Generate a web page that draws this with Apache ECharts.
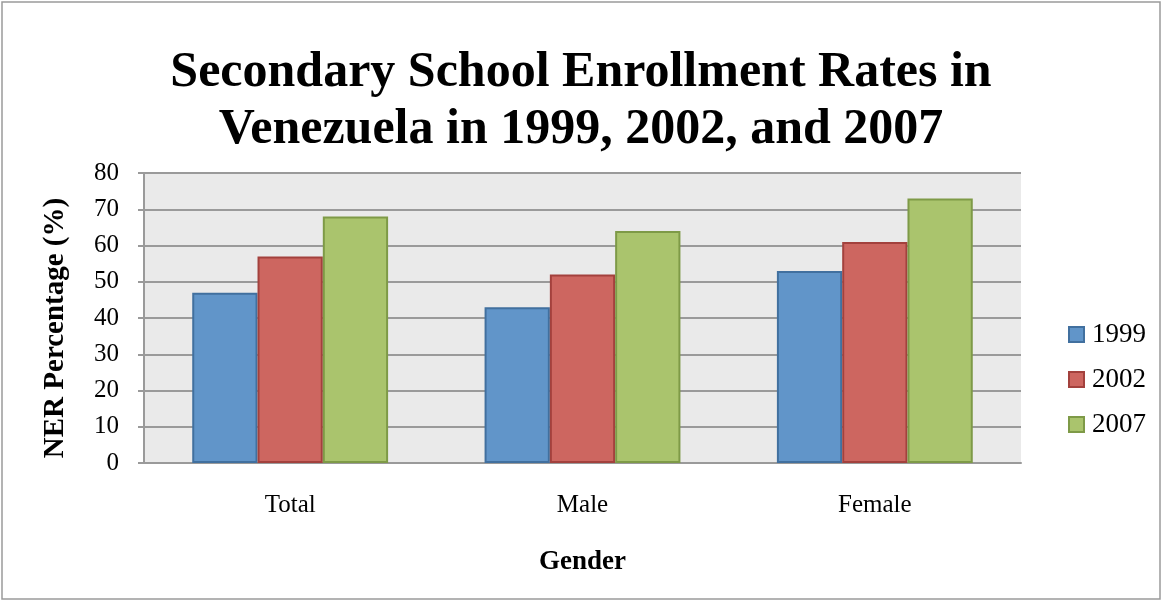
<!DOCTYPE html>
<html>
<head>
<meta charset="utf-8">
<script src="https://cdn.jsdelivr.net/npm/echarts@6/dist/echarts.min.js"></script>
<style>
html,body{margin:0;padding:0;background:#fff;}
#chart{width:1162px;height:601px;}
</style>
</head>
<body>
<div id="chart"></div>
<script>
const categories = ['Total', 'Male', 'Female'];
const seriesNames = ['1999', '2002', '2007'];
const values1999 = [47, 43, 53];
const values2002 = [57, 52, 61];
const values2007 = [68, 64, 73];
const yTicks = [0, 10, 20, 30, 40, 50, 60, 70, 80];

const fills = ['#6195C9', '#CD6660', '#AAC46D'];
const borders = ['#41709F', '#A3413D', '#7E9A47'];
const FONT = '"Liberation Serif", serif';

const chart = echarts.init(document.getElementById('chart'), null, {renderer: 'canvas'});
const data = [values1999, values2002, values2007];

chart.setOption({
  backgroundColor: '#ffffff',
  animation: false,
  title: {
    text: 'Secondary School Enrollment Rates in\nVenezuela in 1999, 2002, and 2007',
    left: 'center',
    top: 40,
    textStyle: {fontFamily: FONT, fontWeight: 'bold', fontSize: 50, lineHeight: 57, color: '#000'}
  },
  graphic: [{
    type: 'rect', shape: {x: 2, y: 2, width: 1158, height: 597},
    style: {fill: 'none', stroke: '#9a9a9a', lineWidth: 1.5}, silent: true, z: -1
  }],
  legend: {
    orient: 'vertical',
    left: 1063,
    top: 316,
    itemWidth: 15,
    itemHeight: 15,
    itemGap: 18,
    icon: 'rect',
    textStyle: {fontFamily: FONT, fontSize: 27, color: '#000', padding: [0,0,0,3]},
    data: seriesNames
  },
  grid: {left: 144, right: 141, top: 173, bottom: 138, show: true, backgroundColor: '#EAEAEA', borderWidth: 0},
  xAxis: {
    type: 'category',
    data: categories,
    name: 'Gender',
    nameLocation: 'middle',
    nameGap: 86,
    nameTextStyle: {fontFamily: FONT, fontWeight: 'bold', fontSize: 27, color: '#000'},
    axisLine: {lineStyle: {color: '#9a9a9a', width: 2}},
    axisTick: {show: false},
    axisLabel: {fontFamily: FONT, fontSize: 25, color: '#000', margin: 30}
  },
  yAxis: {
    type: 'value',
    min: 0, max: 80, interval: 10,
    name: 'NER Percentage (%)',
    nameLocation: 'middle',
    nameGap: 74,
    nameTextStyle: {fontFamily: FONT, fontWeight: 'bold', fontSize: 29, color: '#000', padding: [0, 20, 0, 0]},
    axisLine: {show: true, lineStyle: {color: '#9a9a9a', width: 2}},
    axisTick: {show: true, length: 6, lineStyle: {color: '#9a9a9a', width: 2}},
    axisLabel: {fontFamily: FONT, fontSize: 25, color: '#000', margin: 25,
      formatter: v => yTicks.includes(v) ? String(v) : ''},
    splitLine: {show: true, lineStyle: {color: '#9a9a9a', width: 2}}
  },
  series: seriesNames.map((name, i) => ({
    name: name,
    type: 'bar',
    data: data[i],
    barGap: '0%',
    barCategoryGap: '33%',
    itemStyle: {color: fills[i], borderColor: borders[i], borderWidth: 2}
  }))
});
</script>
</body>
</html>
